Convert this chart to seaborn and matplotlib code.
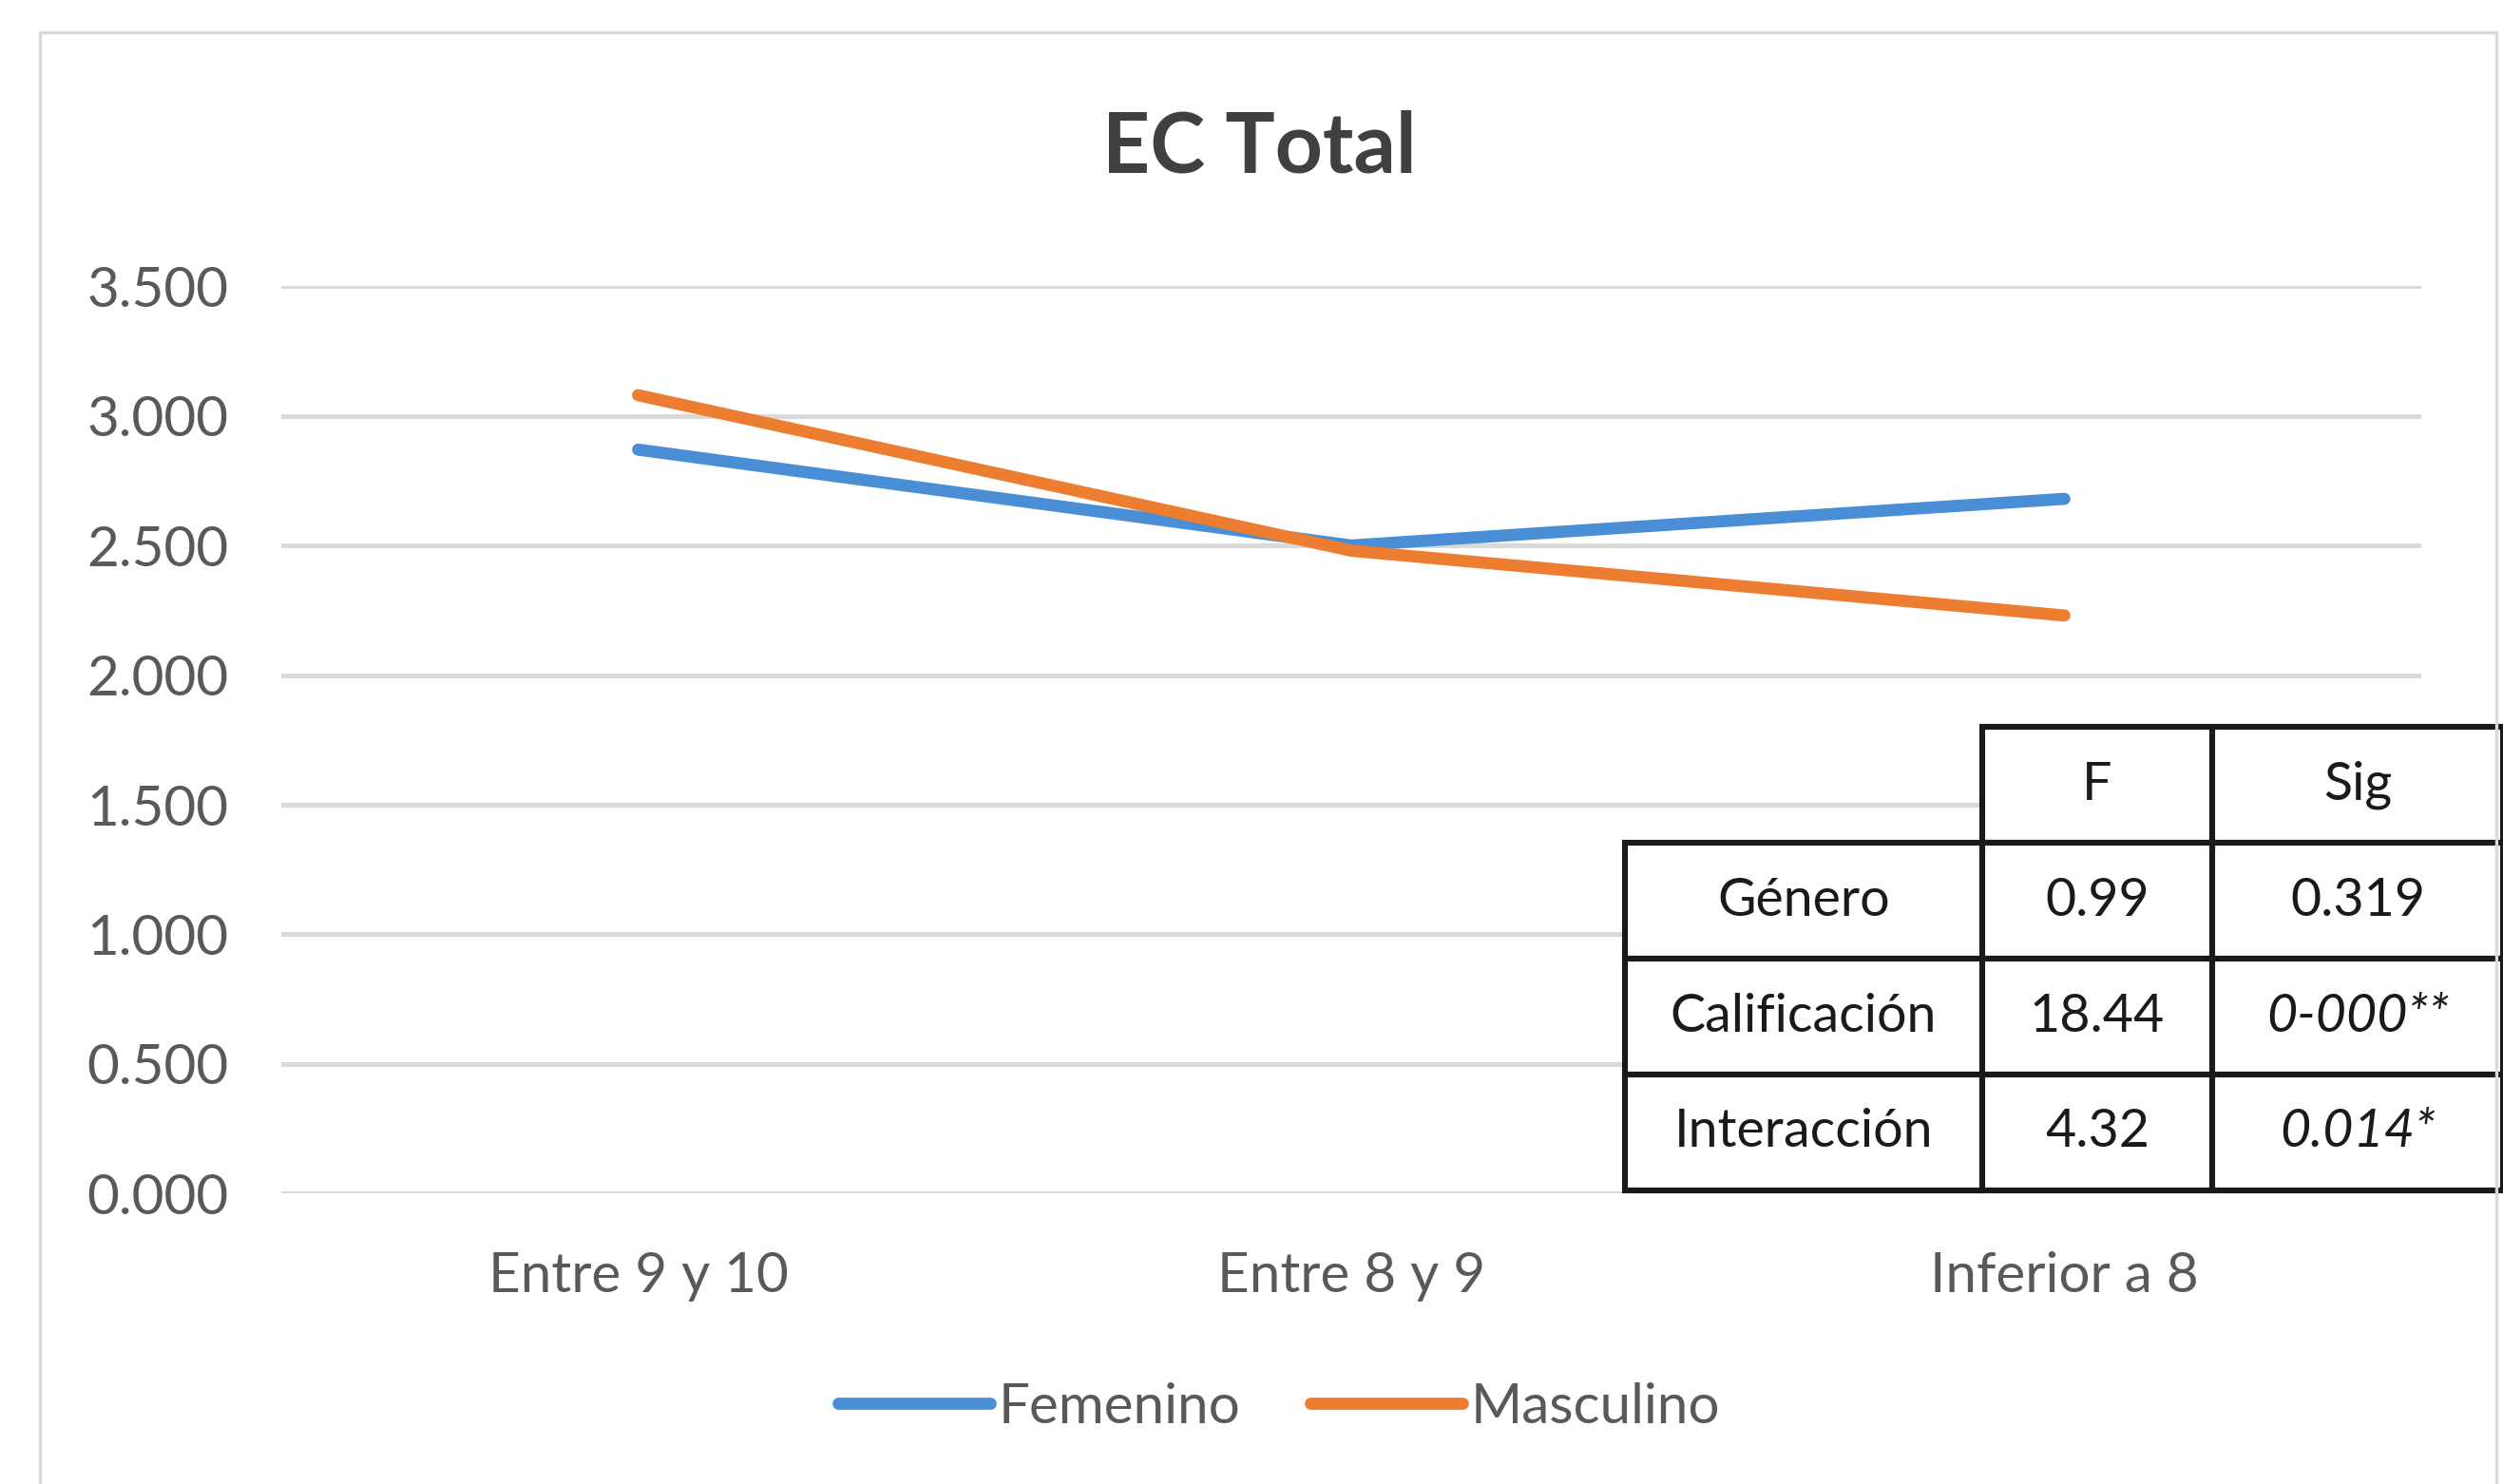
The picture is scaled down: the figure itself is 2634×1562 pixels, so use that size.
import matplotlib
matplotlib.use("Agg")
import matplotlib.pyplot as plt
import matplotlib.ticker as mticker
from matplotlib.patches import Rectangle
import seaborn as sns
import pandas as pd

categories = ["Entre 9 y 10", "Entre 8 y 9", "Inferior a 8"]
femenino = [2.87, 2.50, 2.68]
masculino = [3.08, 2.48, 2.23]
series_names = ["Femenino", "Masculino"]
yticks = [0.0, 0.5, 1.0, 1.5, 2.0, 2.5, 3.0, 3.5]

table_cols = ["", "F", "Sig"]
table_rows = ["Género", "Calificación", "Interacción"]
table_F = ["0.99", "18.44", "4.32"]
table_sig = ["0.319", "0-000**", "0.014*"]

df = pd.DataFrame({
    "cat": categories * 2,
    "val": femenino + masculino,
    "serie": [series_names[0]] * 3 + [series_names[1]] * 3,
})

sns.set_theme(style="white")
plt.rcParams["font.family"] = ["Lato", "DejaVu Sans"]

W, H = 1556.0, 922.6
fig = plt.figure(figsize=(13.17, 7.81), dpi=200)
fig.patch.set_facecolor("white")

# chart border
fig.patches.append(Rectangle((25 / W, -0.05), (1552 - 25) / W, 1.05 - 20 / H,
                             transform=fig.transFigure, fill=False,
                             edgecolor="#D9D9D9", linewidth=1.2, zorder=0))

left, right = 175 / W, 1505 / W
bottom, top = 1 - 742 / H, 1 - 178 / H
ax = fig.add_axes([left, bottom, right - left, top - bottom])
ax.set_facecolor("none")

palette = {"Femenino": "#4A8FD6", "Masculino": "#ED7D31"}
sns.lineplot(data=df, x="cat", y="val", hue="serie", palette=palette,
             linewidth=4.6, ax=ax, sort=False, legend=True)

ax.set_ylim(0, 3.5)
ax.set_xlim(-0.5, 2.5)
ax.set_yticks(yticks)
ax.yaxis.set_major_formatter(mticker.FormatStrFormatter("%.3f"))
ax.grid(axis="y", color="#D9D9D9", linewidth=1.8)
ax.grid(axis="x", visible=False)
ax.set_axisbelow(True)
for s in ax.spines.values():
    s.set_visible(False)
ax.tick_params(axis="both", length=0, labelsize=21, labelcolor="#595959")
ax.tick_params(axis="y", pad=20)
ax.tick_params(axis="x", pad=22)
ax.set_xlabel("")
ax.set_ylabel("")

# legend
handles, labels = ax.get_legend_handles_labels()
ax.legend(handles, labels, loc="center", bbox_to_anchor=(0.511, 1 - 875 / H),
          bbox_transform=fig.transFigure, ncol=2, frameon=False, fontsize=21,
          handlelength=2.75, handletextpad=0.15, columnspacing=1.25,
          labelcolor="#595959")

# title
fig.text(783 / W, 1 - 92 / H, "EC Total", ha="center", va="center",
         fontsize=31.5, fontweight="bold", color="#404040")

# table
tx0, tx1 = 1010 / W, 1556 / W
ty0, ty1 = 1 - 740 / H, 1 - 452 / H
tax = fig.add_axes([tx0, ty0, tx1 - tx0, ty1 - ty0])
tax.axis("off")
cell_text = [table_cols] + [[r, f, s] for r, f, s in zip(table_rows, table_F, table_sig)]
tbl = tax.table(cellText=cell_text, cellLoc="center", loc="center",
                bbox=[0, 0, 1, 1], colWidths=[0.407, 0.262, 0.331])
tbl.auto_set_font_size(False)
for (r, c), cell in tbl.get_celld().items():
    cell.set_facecolor("white")
    cell.set_linewidth(2.2)
    cell.set_edgecolor("#1A1A1A")
    cell.get_text().set_fontsize(20)
    cell.get_text().set_color("#1A1A1A")
    if r == 0 and c == 0:
        cell.visible_edges = ""
    if c == 2 and r in (2, 3):
        cell.get_text().set_fontstyle("italic")

fig.savefig("out.png", dpi=200, facecolor="white")
